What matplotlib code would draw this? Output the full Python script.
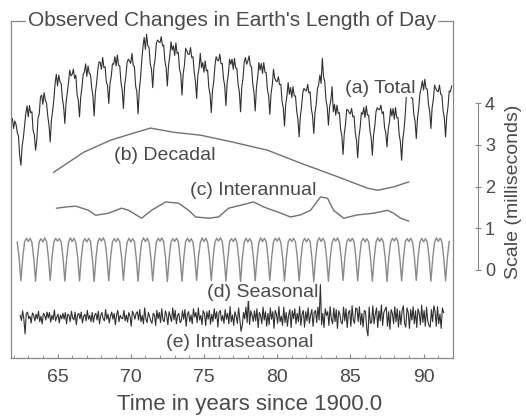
import numpy as np
import matplotlib.pyplot as plt

plt.rcParams['font.family'] = ['Liberation Sans', 'DejaVu Sans']

# (a) total, ms, monthly rows starting at 61.833
total_rows = [
    [5.63, 5.74, 5.50, 5.68, 5.60, 5.40, 5.32, 4.85, 4.62, 5.08, 5.28, 5.58],
    [5.86, 6.04, 5.78, 6.05, 5.88, 5.90, 5.45, 5.35, 4.98, 5.22, 5.75, 5.84],
    [6.25, 6.30, 6.08, 6.36, 6.18, 6.10, 5.80, 5.58, 5.18, 5.70, 5.92, 6.20],
    [6.58, 6.80, 6.52, 6.78, 6.62, 6.58, 6.22, 6.02, 5.62, 6.12, 6.35, 6.60],
    [6.90, 6.76, 6.80, 6.92, 6.70, 6.78, 6.32, 6.18, 5.78, 6.25, 6.48, 6.80],
    [6.85, 7.05, 6.75, 7.00, 6.82, 6.80, 6.48, 6.28, 5.80, 6.36, 6.58, 6.90],
    [7.10, 7.08, 6.92, 7.20, 6.96, 6.98, 6.62, 6.52, 6.10, 6.58, 6.74, 7.05],
    [7.04, 7.22, 7.00, 7.26, 7.02, 7.00, 6.60, 6.42, 5.98, 6.52, 6.75, 7.08],
    [7.16, 7.12, 7.06, 7.30, 7.02, 6.98, 6.52, 6.38, 5.85, 6.42, 6.70, 7.12],
    [7.45, 7.68, 7.40, 7.76, 7.48, 7.44, 7.05, 6.92, 6.48, 6.98, 7.18, 7.55],
    [7.62, 7.58, 7.56, 7.70, 7.48, 7.50, 7.12, 6.96, 6.52, 7.02, 7.24, 7.58],
    [7.38, 7.48, 7.25, 7.55, 7.30, 7.32, 6.92, 6.80, 6.30, 6.82, 7.02, 7.42],
    [7.36, 7.28, 7.28, 7.44, 7.20, 7.22, 6.85, 6.64, 6.22, 6.78, 6.95, 7.30],
    [6.96, 7.08, 6.85, 7.12, 6.88, 6.90, 6.48, 6.32, 5.88, 6.42, 6.62, 7.00],
    [7.22, 7.14, 7.12, 7.28, 7.05, 7.06, 6.70, 6.52, 6.05, 6.60, 6.80, 7.16],
    [7.04, 7.16, 6.92, 7.18, 6.95, 6.94, 6.55, 6.38, 5.90, 6.50, 6.70, 7.10],
    [7.20, 7.04, 7.12, 7.24, 7.00, 6.98, 6.58, 6.36, 5.92, 6.48, 6.72, 7.08],
    [6.90, 7.06, 6.82, 7.08, 6.85, 6.84, 6.44, 6.28, 5.84, 6.34, 6.55, 6.92],
    [6.70, 6.64, 6.62, 6.74, 6.55, 6.56, 6.15, 6.00, 5.56, 6.08, 6.28, 6.60],
    [6.32, 6.48, 6.24, 6.50, 6.28, 6.28, 5.92, 5.72, 5.30, 5.80, 6.02, 6.36],
    [6.46, 6.42, 6.40, 6.56, 6.35, 6.38, 5.98, 5.80, 5.38, 5.88, 6.08, 6.45],
    [6.55, 6.78, 6.58, 7.18, 6.74, 6.62, 6.18, 6.02, 5.58, 6.02, 6.18, 6.50],
    [5.90, 6.08, 5.82, 6.06, 5.86, 5.88, 5.48, 5.32, 4.88, 5.38, 5.60, 5.96],
    [5.94, 5.88, 5.85, 5.98, 5.78, 5.80, 5.40, 5.22, 4.80, 5.30, 5.52, 5.88],
    [5.84, 6.00, 5.76, 6.04, 5.82, 5.82, 5.45, 5.28, 4.86, 5.35, 5.55, 5.90],
    [6.00, 5.96, 5.95, 6.06, 5.86, 5.90, 5.52, 5.40, 5.06, 5.48, 5.65, 5.98],
    [5.80, 5.98, 5.72, 6.00, 5.76, 5.76, 5.35, 5.18, 4.74, 5.25, 5.48, 5.86],
    [6.36, 6.32, 6.30, 6.46, 6.24, 6.22, 5.84, 5.68, 5.26, 5.75, 5.98, 6.34],
    [6.46, 6.64, 6.42, 6.68, 6.46, 6.44, 6.08, 5.92, 5.50, 6.00, 6.20, 6.54],
    [6.45, 6.40, 6.38, 6.54, 6.32, 6.30, 5.92, 5.75, 5.30, 5.80, 6.02, 6.40],
    [6.38, 6.52],
]
total_start = 61.833

# (b) decadal
dec_years = [64.73, 66.78, 68.62, 70.19, 71.35, 72.92, 74.77, 77.02, 79.34,
             81.60, 83.85, 86.17, 86.86, 87.95, 88.98]
dec_ms = [4.45, 4.93, 5.22, 5.39, 5.51, 5.41, 5.34, 5.17, 4.98,
          4.67, 4.38, 4.07, 4.02, 4.10, 4.22]

# (c) interannual
int_years = [64.93, 65.61, 66.23, 67.12, 67.60, 68.48, 69.37, 69.85, 70.74,
             71.42, 72.38, 73.27, 73.95, 74.43, 75.31, 76.00, 76.68, 77.50,
             78.39, 79.07, 80.03, 80.91, 81.60, 82.28, 82.96, 83.44, 83.85,
             84.54, 85.49, 86.58, 87.54, 87.95, 88.43, 88.98]
int_ms = [3.59, 3.62, 3.64, 3.54, 3.42, 3.47, 3.59, 3.54, 3.35,
          3.54, 3.74, 3.71, 3.54, 3.38, 3.35, 3.38, 3.59, 3.66,
          3.74, 3.62, 3.50, 3.38, 3.43, 3.54, 3.86, 3.83, 3.54,
          3.35, 3.43, 3.47, 3.54, 3.47, 3.35, 3.28]

# (d) seasonal, ms, 8 per year starting at 62.25
seas_rows = [
    [2.78, 2.40, 1.85, 2.41, 2.78, 2.87, 2.79, 2.87],
    [2.77, 2.39, 1.84, 2.40, 2.79, 2.86, 2.78, 2.88],
    [2.79, 2.41, 1.86, 2.42, 2.78, 2.87, 2.80, 2.86],
    [2.78, 2.40, 1.84, 2.39, 2.77, 2.88, 2.79, 2.87],
    [2.77, 2.41, 1.85, 2.41, 2.79, 2.86, 2.78, 2.87],
    [2.79, 2.40, 1.83, 2.40, 2.78, 2.87, 2.80, 2.88],
    [2.78, 2.39, 1.85, 2.42, 2.78, 2.86, 2.79, 2.87],
    [2.78, 2.41, 1.86, 2.40, 2.77, 2.87, 2.78, 2.86],
    [2.79, 2.40, 1.84, 2.41, 2.79, 2.88, 2.79, 2.87],
    [2.77, 2.40, 1.85, 2.39, 2.78, 2.87, 2.80, 2.88],
    [2.78, 2.41, 1.83, 2.40, 2.78, 2.86, 2.79, 2.87],
    [2.79, 2.39, 1.84, 2.41, 2.79, 2.87, 2.78, 2.86],
    [2.78, 2.40, 1.86, 2.42, 2.77, 2.88, 2.79, 2.87],
    [2.77, 2.41, 1.85, 2.40, 2.78, 2.87, 2.80, 2.88],
    [2.79, 2.40, 1.84, 2.39, 2.79, 2.86, 2.79, 2.87],
    [2.78, 2.39, 1.83, 2.41, 2.78, 2.87, 2.78, 2.86],
    [2.78, 2.41, 1.85, 2.40, 2.77, 2.88, 2.79, 2.87],
    [2.79, 2.40, 1.86, 2.42, 2.79, 2.87, 2.80, 2.88],
    [2.77, 2.40, 1.84, 2.40, 2.78, 2.86, 2.79, 2.87],
    [2.78, 2.41, 1.85, 2.39, 2.78, 2.87, 2.78, 2.86],
    [2.79, 2.39, 1.83, 2.41, 2.79, 2.88, 2.79, 2.87],
    [2.78, 2.40, 1.84, 2.40, 2.77, 2.87, 2.80, 2.88],
    [2.77, 2.41, 1.86, 2.42, 2.78, 2.86, 2.79, 2.87],
    [2.79, 2.40, 1.85, 2.40, 2.79, 2.87, 2.78, 2.86],
    [2.78, 2.39, 1.84, 2.39, 2.78, 2.88, 2.79, 2.87],
    [2.78, 2.41, 1.83, 2.41, 2.77, 2.87, 2.80, 2.88],
    [2.79, 2.40, 1.85, 2.40, 2.79, 2.86, 2.79, 2.87],
    [2.77, 2.40, 1.86, 2.42, 2.78, 2.87, 2.78, 2.86],
    [2.78, 2.41, 1.84, 2.40, 2.78, 2.88, 2.79, 2.87],
    [2.79, 2.39, 1.85, 2.41, 2.79],
]
seas_start = 62.25

# (e) intraseasonal, deviations in 0.01 ms, monthly rows from 62.45
intra_base = 0.98
intra_rows = [
    [4, -8, 15, -5, -40, 9, 12, -4, 2, -14, 10, 5],
    [-9, 7, -4, 14, -11, 2, -16, 9, 5, -7, 12, -2],
    [11, -12, 4, -6, 17, -9, 0, 7, -14, 5, -4, 9],
    [-5, 11, -16, 7, 4, -11, 14, -2, -7, 12, -18, 5],
    [9, -4, 12, -14, 2, 7, -9, 16, -5, 4, -11, 11],
    [-12, 5, 9, -7, 14, -16, 4, 11, -4, -9, 18, -5],
    [7, -14, 2, 12, -5, 9, -18, 5, 16, -11, 4, -2],
    [-4, 16, -9, 5, -12, 11, 2, -22, 14, 7, -5, 9],
    [13, -7, 18, -11, 4, -16, 22, -5, -13, 11, 2, -9],
    [-15, 9, 5, -20, 16, -4, 11, -13, 20, -7, -11, 15],
    [5, -18, 13, 2, -11, 22, -7, 16, -16, 4, 9, -13],
    [-9, 15, -5, 18, -22, 7, 13, -11, 5, -16, 20, 0],
    [11, -13, 22, -7, 4, -18, 15, 9, -20, 13, -5, 16],
    [-17, 7, -11, 20, -4, 13, -24, 11, 16, -9, 4, -15],
    [18, -5, 9, -16, 25, -11, 5, -20, 13, 2, -15, 22],
    [-7, -34, -20, 11, -4, 24, -13, 45, -18, 15, 5, -11],
    [15, -9, 20, -25, 11, 4, -16, 24, -7, 13, -22, 9],
    [-18, 22, -5, 13, -27, 16, 7, -15, 25, -11, 2, -20],
    [24, -13, 11, -22, 5, 18, -25, 15, -4, 20, -16, 9],
    [-11, 25, -20, 7, 16, -24, 13, -9, 22, -15, 5, 18],
    [-22, 11, 16, -13, 24, -7, 78, -18, 9, -25, 20, 4],
    [13, -20, 25, -5, -16, 22, -11, 18, -27, 15, 7, -13],
    [-16, 24, -9, 20, -25, 11, 16, -22, 27, -7, -15, 22],
    [20, -11, 25, -18, 9, -24, 16, 13, -29, -45, 24, -15],
    [-13, 27, -16, 7, 22, -25, 15, -9, 29, -20, 11, 18],
    [24, -22, 13, -29, 18, 9, -16, 25, -11, 20, -24, 15],
    [-18, 16, 27, -15, -24, 22, 11, -27, 18, -7, 25, -16],
    [15, -25, 20, 9, -18, 29, -13, 16, -22, 24, -9, -20],
    [-24, 18, -11, 27, 13, -22, 25, -16, 7, -27, 22, 11],
]
intra_start = 62.45

labels = ['(a) Total', '(b) Decadal', '(c) Interannual', '(d) Seasonal',
          '(e) Intraseasonal']
label_x = [87.06, 72.31, 78.39, 79.0, 77.43]
label_y = [6.47, 4.86, 4.02, 1.58, 0.38]

total = np.concatenate([np.array(r) for r in total_rows])
t_total = total_start + np.arange(len(total)) / 12
seas = np.concatenate([np.array(r) for r in seas_rows])
t_seas = seas_start + np.arange(len(seas)) / 8
intra = intra_base + np.concatenate([np.array(r) for r in intra_rows]) / 100
t_intra = intra_start + np.arange(len(intra)) / 12

txt = '#4a4a4a'
fig = plt.figure(figsize=(5.26, 4.17), dpi=100)
ax = fig.add_axes([0.0203, 0.1415, 0.8407, 0.8085])

ax.plot(t_total, total, color='#303030', lw=0.8)
ax.plot(dec_years, dec_ms, color='#707070', lw=1.0)
ax.plot(int_years, int_ms, color='#707070', lw=1.0)
ax.plot(t_seas, seas, color='#8a8a8a', lw=1.0)
ax.plot(t_intra, intra, color='#303030', lw=0.8)

for s, x, y in zip(labels, label_x, label_y):
    ax.text(x, y, s, ha='center', va='center', fontsize=14, color=txt,
            bbox=dict(fc='white', ec='none', pad=0.3))

ax.set_xlim(61.8, 92.0)
ax.set_ylim(0, 8.08)
ax.set_yticks([])
ax.set_xticks([65, 70, 75, 80, 85, 90])
ax.set_xticks(np.arange(62, 92), minor=True)
ax.tick_params(axis='x', direction='in', length=3, color='#888888',
               labelsize=14, labelcolor=txt, pad=8)
ax.tick_params(axis='x', which='minor', direction='in', length=2,
               color='#888888')
for sp in ax.spines.values():
    sp.set_color('#888888')
    sp.set_linewidth(0.9)
ax.set_xlabel('Time in years since 1900.0', fontsize=16, color=txt,
              labelpad=6, x=0.54)
ax.text(0.5, 1.0, "Observed Changes in Earth's Length of Day",
        transform=ax.transAxes, ha='center', va='center', fontsize=15,
        color=txt, bbox=dict(fc='white', ec='none', pad=1.5))

# separate millisecond scale bar
sax = fig.add_axes([478 / 526, 147 / 417, 0.0001, 167 / 417])
sax.set_ylim(0, 4)
sax.set_xticks([])
sax.set_yticks([0, 1, 2, 3, 4])
for name in ['top', 'bottom', 'right']:
    sax.spines[name].set_visible(False)
sax.spines['left'].set_color('#888888')
sax.tick_params(axis='y', left=True, right=False, labelleft=False,
                labelright=True, direction='inout', length=4,
                color='#888888', labelsize=13, labelcolor=txt, pad=3)
sax.yaxis.set_label_position('right')
sax.set_ylabel('Scale (milliseconds)', fontsize=14, color=txt, labelpad=7,
               y=0.467)

fig.savefig('out.png', dpi=100)
